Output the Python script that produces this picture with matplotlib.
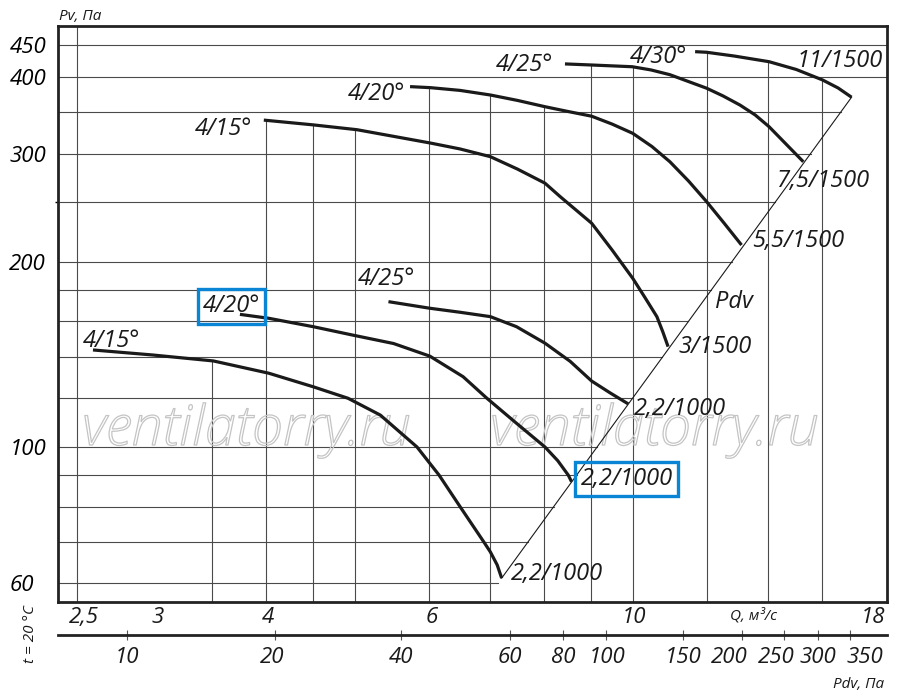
import numpy as np
import matplotlib
matplotlib.use("Agg")
import matplotlib.pyplot as plt
import matplotlib.patheffects as pe
from matplotlib.ticker import FixedLocator, NullLocator, NullFormatter

plt.rcParams['font.family'] = ['Open Sans', 'DejaVu Sans']
plt.rcParams['font.style'] = 'italic'
plt.rcParams['text.color'] = '#1a1a1a'

# fan curves: Q (m3/s) vs Pv (Pa), lower group 1000 rpm, upper group 1500 rpm
q_low15 = [2.60, 3.02, 3.51, 4.03, 4.50, 4.91, 5.32, 5.83, 6.16, 6.49, 6.89, 7.00, 7.12, 7.20]
pv_low15 = [143.8, 141.1, 138.0, 131.8, 125.3, 120, 112.7, 100, 90, 80, 70, 67.5, 64.3, 61.2]
q_low20 = [3.75, 4.03, 4.50, 4.97, 5.50, 6.02, 6.54, 6.94, 7.47, 8.02, 8.28, 8.50, 8.57]
pv_low20 = [164.3, 161.9, 156.9, 152.0, 147.3, 140.5, 130.1, 120, 109.3, 100, 95, 90, 87.8]
q_low25 = [5.43, 6.02, 6.49, 7.00, 7.47, 8.02, 8.54, 9.01, 9.43, 9.87]
pv_low25 = [172.3, 168.1, 165.6, 162.9, 156.9, 147.5, 137.8, 128.0, 122.5, 117.5]
q_up15 = [3.98, 4.50, 5.02, 6.03, 6.49, 7.00, 7.49, 8.02, 8.33, 9.01, 9.48, 9.98,
          10.28, 10.60, 10.76, 10.90]
pv_up15 = [340, 334, 328, 312, 305.2, 296.5, 283, 268.5, 255.3, 231.1, 209.1, 188.1,
           175.4, 162.9, 153.8, 145.6]
q_up20 = [5.73, 6.03, 6.49, 7.00, 7.49, 8.02, 8.49, 9.01, 9.48, 9.98, 10.47, 10.95,
          11.47, 12.0, 12.53, 13.09]
pv_up20 = [385.4, 383.9, 380, 373.5, 366, 357.5, 351.2, 345, 335, 323.6, 308, 290.9,
           270.7, 250.5, 231.3, 213]
q_up25 = [8.43, 9.01, 9.97, 10.45, 10.95, 12.0, 12.50, 13.04, 13.54, 14.02, 14.62, 15.27]
pv_up25 = [419.6, 417.9, 415.2, 410.2, 403, 383.1, 372.2, 359.7, 346.7, 331.7, 311, 290.9]
q_up30 = [11.66, 12.0, 12.85, 14.02, 15.0, 16.01, 16.65, 17.22]
pv_up30 = [439.3, 438.3, 432.2, 423.1, 411, 395.3, 383.5, 370.4]

curves = [(q_low15, pv_low15), (q_low20, pv_low20), (q_low25, pv_low25),
          (q_up15, pv_up15), (q_up20, pv_up20), (q_up25, pv_up25), (q_up30, pv_up30)]
start_labels = ['4/15°', '4/20°', '4/25°', '4/15°', '4/20°', '4/25°', '4/30°']
end_labels = ['2,2/1000', '2,2/1000', '2,2/1000', '3/1500', '5,5/1500', '7,5/1500', '11/1500']

# grid
q_grid = [2.5, 3.5, 4, 4.5, 5, 6, 7, 8, 9, 10, 12, 14, 16]
pv_grid = [60, 70, 80, 90, 100, 120, 140, 160, 180, 200, 250, 300, 350, 400, 450]

# axis ticks
q_ticks = [2.5, 3, 4, 6, 10, 18]
q_ticklabels = ['2,5', '3', '4', '6', '10', '18']
pv_ticks = [60, 100, 200, 300, 400, 450]
pdv_labels = ['10', '20', '40', '60', '80', '100', '150', '200', '250', '300', '350']
pdv_at_q = [2.83, 4.09, 5.60, 7.35, 8.39, 9.34, 11.31, 13.10, 14.55, 15.84, 17.16]

# label placement (pixels)
start_off = [(-10, 3), (-37, 2), (-31, 17), (-69, -15), (-62, -13), (-69, -7), (-65, -11)]
end_off = [(9, -2), (9, -3), (6, -11), (10, -6), (11, -2), (-26, -25), (-55, 30)]
boxed_start = [1]
boxed_end = [1]
q_label_dx = [7, 7, 2, 3, 1, 4]
pdv_label_dx = [0, -3, 0, 0, 0, 1, 0, -13, -8, 0, 15]

XLIM = (2.383, 18.81)
YLIM = (55.97, 483.6)
ink = '#1a1a1a'
blue = '#0a84d4'
gridc = '#4a4a4a'

fig = plt.figure(figsize=(9, 6.97), dpi=100)
ax = fig.add_axes([58 / 900, 1 - 602 / 697, 829 / 900, 576 / 697])
ax.set_xscale('log')
ax.set_yscale('log')
ax.set_xlim(*XLIM)
ax.set_ylim(*YLIM)

# system line through the curve ends
ends = [(c[0][-1], c[1][-1]) for c in curves]
(q0, p0), (q1, p1) = ends[0], ends[-1]
slope = (np.log10(p1) - np.log10(p0)) / (np.log10(q1) - np.log10(q0))
ax.plot([q0, q1], [p0, p1], color=ink, lw=0.8, zorder=3)


def diag_q(pv):
    return 10 ** (np.log10(q0) + (np.log10(pv) - np.log10(p0)) / slope)


def curve_top(q):
    tops = []
    for cq, cp in curves:
        if cq[0] <= q <= cq[-1]:
            tops.append(10 ** np.interp(np.log10(q), np.log10(cq), np.log10(cp)))
    return max(tops) if tops else YLIM[1]


for pv in pv_grid:
    xmax = XLIM[1] if pv > p1 else diag_q(pv)
    ax.plot([XLIM[0], xmax], [pv, pv], color=gridc, lw=0.8, zorder=1)
for q in q_grid:
    ax.plot([q, q], [YLIM[0], curve_top(q)], color=gridc, lw=0.8, zorder=1)

for i, (cq, cp) in enumerate(curves):
    ax.plot(cq, cp, color=ink, lw=2.3, solid_capstyle='butt',
            solid_joinstyle='round', zorder=4)
    bb = dict(boxstyle='square,pad=0.22', fc='none', ec=blue, lw=2.4) if i in boxed_start else None
    ax.annotate(start_labels[i], xy=(cq[0], cp[0]), xytext=start_off[i],
                textcoords='offset pixels', ha='left', va='baseline',
                fontsize=17, bbox=bb, zorder=5)
    bb = dict(boxstyle='square,pad=0.22', fc='none', ec=blue, lw=2.4) if i in boxed_end else None
    ax.annotate(end_labels[i], xy=(cq[-1], cp[-1]), xytext=end_off[i],
                textcoords='offset pixels', ha='left', va='baseline',
                fontsize=17, bbox=bb, zorder=5)

ax.text(12.25, 168, 'Pdv', fontsize=17, ha='left', va='baseline', zorder=5)

# watermark
for x0 in (82, 490):
    ax.text(x0 / 900, 1 - 445 / 697, 'ventilatorry.ru', transform=fig.transFigure,
            fontsize=40, fontweight='light', color='none', ha='left', va='baseline',
            zorder=2, path_effects=[pe.Stroke(linewidth=0.9, foreground='#c4c4c4')])

# axes
for s in ax.spines.values():
    s.set_linewidth(2.0)
    s.set_color('#222222')
    s.set_zorder(6)

ax.xaxis.set_major_locator(NullLocator())
ax.xaxis.set_minor_locator(NullLocator())
xt = ax.get_xaxis_transform()
for q, lab, dx in zip(q_ticks, q_ticklabels, q_label_dx):
    ax.annotate(lab, xy=(q, 0), xycoords=xt, xytext=(dx, -5),
                textcoords='offset pixels', ha='center', va='top',
                fontsize=16, annotation_clip=False)

ax.yaxis.set_major_locator(FixedLocator(pv_ticks))
ax.set_yticklabels([str(v) for v in pv_ticks])
ax.yaxis.set_minor_locator(FixedLocator([250]))
ax.yaxis.set_minor_formatter(NullFormatter())
ax.tick_params(axis='y', which='major', length=0, pad=35, labelsize=16)
ax.tick_params(axis='y', which='minor', length=2.5, width=1.0)
for lab in ax.get_yticklabels():
    lab.set_horizontalalignment('left')

# Pdv scale below the Q scale
sec_y = -(635 - 602) / 576
sec = ax.secondary_xaxis(sec_y)
sec.set_xticks(pdv_at_q, labels=[''] * len(pdv_at_q))
sec.xaxis.set_minor_locator(NullLocator())
sec.tick_params(axis='x', direction='inout', length=7, width=0.8, color='#555555')
sec.spines['bottom'].set_linewidth(2.0)
sec.spines['bottom'].set_color('#222222')
for q, lab, dx in zip(pdv_at_q, pdv_labels, pdv_label_dx):
    ax.annotate(lab, xy=(q, -(647 - 602) / 576), xycoords=xt, xytext=(dx, 0),
                textcoords='offset pixels', ha='center', va='top',
                fontsize=16, annotation_clip=False)

ax.text(13.47, -0.024, 'Q, м³/с', transform=xt,
        fontsize=11, ha='center', va='center')
fig.text(59 / 900, 1 - 20 / 697, 'Pv, Па', fontsize=11, ha='left', va='baseline')
fig.text(884 / 900, 1 - 688 / 697, 'Pdv, Па', fontsize=11, ha='right', va='baseline')
fig.text(30 / 900, 1 - 634 / 697, 't = 20 °C', fontsize=11, rotation=90,
         ha='center', va='center')

fig.savefig('out.png', dpi=100)
